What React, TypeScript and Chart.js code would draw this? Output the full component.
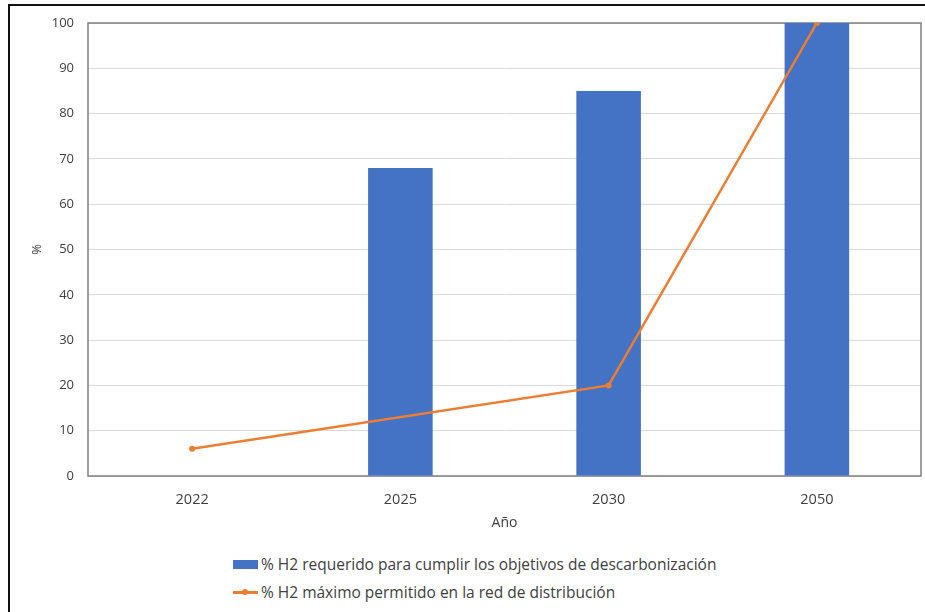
import React, { useEffect, useRef } from "react";
import { Chart, registerables } from "chart.js";

Chart.register(...registerables);

const years = ["2022", "2025", "2030", "2050"];
const requiredH2 = [null, 68, 85, 100];
const maxAllowedH2 = [6, null, 20, 100];
const barLabel = "% H2 requerido para cumplir los objetivos de descarbonización";
const lineLabel = "% H2 máximo permitido en la red de distribución";
const yTitle = "%";
const xTitle = "Año";

const BLUE = "#4472C4";
const ORANGE = "#ED7D31";
const TEXT = "#404040";
const FONT = "'Open Sans', Lato, sans-serif";

const plotBorder = {
  id: "plotBorder",
  beforeDatasetsDraw(chart: any) {
    const { ctx, chartArea } = chart;
    ctx.save();
    ctx.strokeStyle = "#7f7f7f";
    ctx.lineWidth = 1.5;
    ctx.strokeRect(chartArea.left, chartArea.top, chartArea.right - chartArea.left, chartArea.bottom - chartArea.top);
    ctx.restore();
  },
};

export default function App() {
  const ref = useRef<HTMLCanvasElement>(null);
  useEffect(() => {
    if (!ref.current) return;
    const chart = new Chart(ref.current, {
      type: "bar",
      data: {
        labels: years,
        datasets: [
          {
            type: "line",
            label: lineLabel,
            data: maxAllowedH2,
            borderColor: ORANGE,
            backgroundColor: ORANGE,
            borderWidth: 2.5,
            pointRadius: 3,
            pointBorderWidth: 0,
            spanGaps: true,
            order: 0,
          } as any,
          {
            type: "bar",
            label: barLabel,
            data: requiredH2,
            backgroundColor: BLUE,
            categoryPercentage: 1,
            barPercentage: 0.31,
            order: 1,
          } as any,
        ],
      },
      options: {
        animation: false,
        responsive: false,
        maintainAspectRatio: false,
        layout: { padding: { top: 23, right: 3, bottom: 0, left: 0 } },
        plugins: { legend: { display: false }, tooltip: { enabled: false } },
        scales: {
          x: {
            grid: { display: false, drawTicks: false },
            border: { display: false },
            ticks: { color: TEXT, font: { family: FONT, size: 14.5 }, padding: 15 },
            title: { display: true, text: xTitle, color: TEXT, font: { family: FONT, size: 14 }, padding: { top: 0, bottom: 14 } },
            afterFit(scale: any) { scale.height = 69; },
          },
          y: {
            min: 0,
            max: 100,
            ticks: { stepSize: 10, color: TEXT, font: { family: FONT, size: 13 }, padding: 14 },
            grid: { color: "#d9d9d9", drawTicks: false },
            border: { display: false },
            title: { display: true, text: yTitle, color: TEXT, font: { family: FONT, size: 13 }, padding: { top: 29, bottom: 0 } },
            afterFit(scale: any) { scale.width = 88; },
          },
        },
      },
      plugins: [plotBorder],
    });
    return () => chart.destroy();
  }, []);

  return (
    <div style={{ position: "fixed", left: 0, top: 0, width: 925, height: 612, background: "#fff", overflow: "hidden" }}>
      <div style={{ position: "absolute", left: 8, top: 4, width: 940, height: 640, borderLeft: "2px solid #111", borderTop: "2px solid #111" }} />
      <canvas ref={ref} width={925} height={545} style={{ position: "absolute", left: 0, top: 0, width: 925, height: 545 }} />
      <div style={{ position: "absolute", left: 233, top: 555, fontFamily: FONT, fontSize: 15.5, color: TEXT, lineHeight: "18px" }}>
        <div style={{ display: "flex", alignItems: "center", height: 18 }}>
          <span style={{ display: "inline-block", width: 25, height: 9, background: BLUE, marginRight: 3 }} />
          <span>{barLabel}</span>
        </div>
        <div style={{ display: "flex", alignItems: "center", height: 18, marginTop: 10 }}>
          <span style={{ position: "relative", display: "inline-block", width: 25, height: 9, marginRight: 3 }}>
            <span style={{ position: "absolute", left: 0, top: 3.5, width: 25, height: 2.5, background: ORANGE }} />
            <span style={{ position: "absolute", left: 9, top: 1.5, width: 6, height: 6, borderRadius: 3, background: ORANGE }} />
          </span>
          <span>{lineLabel}</span>
        </div>
      </div>
    </div>
  );
}
